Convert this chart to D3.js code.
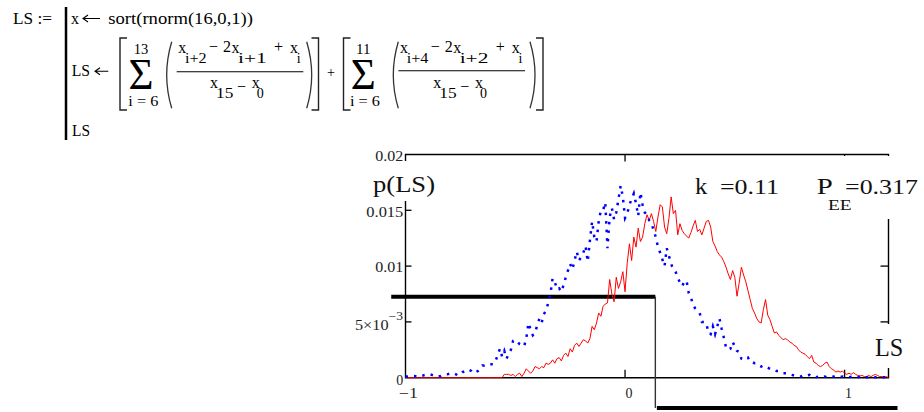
<!DOCTYPE html>
<html><head><meta charset="utf-8">
<script src="https://cdn.jsdelivr.net/npm/d3@7"></script>
<style>html,body{margin:0;padding:0;background:#fff;}svg{display:block;}</style>
</head><body>
<svg id="c" width="924" height="412"></svg>
<script>
// ---------- data ----------
const xStart = -1.0, xStep = 0.01;          // histogram grid of LS
const xDomain = [-1, 1.2];
const yDomain = [0, 0.02];
const yTicks = [0, 0.005, 0.01, 0.015, 0.02];
const yTickLabels = ["0", "5×10", "0.01", "0.015", "0.02"];
const xTicks = [-1, 0, 1];
const xTickLabels = ["−1", "0", "1"];
const kValue = "0.11";
const pEE = "0.317";
// blue dotted series (reference distribution)
const blue = [
0.0001,0.0001,0.00012,0.00015,0.00015,0.0001,0.00018,0.0002,0.0002,0.00025,
0.0003,0.0003,0.00025,0.0002,0.00012,0.0001,0.00015,0.00025,0.0003,0.0003,
0.00035,0.0004,0.0004,0.0003,0.0002,0.0003,0.0005,0.0006,0.00075,0.0007,
0.0006,0.0004,0.0005,0.0006,0.0008,0.0011,0.0011,0.0012,0.0012,0.0012,
0.0012,0.0015,0.0020,0.0026,0.0019,0.0024,0.0017,0.0021,0.0025,0.0033,
0.0034,0.0032,0.0030,0.0029,0.0028,0.0035,0.0049,0.0043,0.0038,0.0040,
0.0047,0.0053,0.0049,0.0057,0.0060,0.0067,0.0075,0.0089,0.0086,0.0079,
0.0080,0.0077,0.0083,0.0090,0.0096,0.0102,0.0097,0.0105,0.0113,0.0105,
0.0108,0.0112,0.0118,0.0104,0.0123,0.0140,0.0126,0.0122,0.0140,0.0150,
0.0150,0.0157,0.0116,0.0144,0.0152,0.0142,0.0148,0.0160,0.0172,0.0162,
0.0143,0.0147,0.0155,0.0160,0.0165,0.0156,0.0145,0.0166,0.0155,0.0148,
0.0146,0.0141,0.0139,0.0132,0.0126,0.0117,0.0112,0.0106,0.0100,0.0116,
0.0109,0.0102,0.0097,0.0095,0.0090,0.0085,0.0082,0.0086,0.0087,0.0076,
0.0072,0.0065,0.0062,0.0060,0.0058,0.0050,0.0050,0.0049,0.0040,0.0039,
0.0046,0.0039,0.0046,0.0053,0.0044,0.0036,0.0027,0.0025,0.0026,0.0032,
0.0028,0.0024,0.0023,0.0017,0.0016,0.0017,0.0018,0.0014,0.0014,0.0013,
0.0013,0.0011,0.0010,0.0011,0.0010,0.0009,0.0008,0.0007,0.0007,0.0006,
0.0006,0.0005,0.0004,0.0004,0.0004,0.0003,0.00025,0.0002,0.00015,0.0001,
0.0001,0.0002,0.00025,0.0002,0.00025,0.0001,0.00005,0.00005,0.0001,0.00003,
0.00005,0.0001,0.00003,0.00005,0.00008,0.0001,0.00005,0.00003,0.00005,0.0001,
0.00005,0.00003,0.00005,0.00008,0.00005,0.00003,0.00005,0.0001,0.00005,0.00003,
0.00003,0.00005,0.0001,0.00005,0.00003,0.00005,0.00008,0.00005,0.00003,0.00005,
0.00005
];
// red series p(LS)
const red = [
0,0,0,0,0,0,0,0,0,0,
0,0,0,0,0,0,0,0,0,0,
0,0,0,0,0,0,0,0,0,0,
0,0,0,0,0,0,0,0,0,0,
0,0,0,0,0,
0.0003,0.0003,0.0003,0.0002,0.0003,0.0001,0.0003,0.0004,0.0001,0.0004,
0.0008,0.0006,0.0004,0.0006,0.0010,0.0009,0.0008,0.0010,0.0009,0.0013,
0.0012,0.0013,0.0016,0.0013,0.0017,0.0018,0.0015,0.0020,0.0022,0.0019,
0.0026,0.0023,0.0029,0.0031,0.0028,0.0031,0.0034,0.0033,0.0031,0.0035,
0.0046,0.0043,0.0049,0.0058,0.0055,0.0064,0.0066,0.0067,0.0088,0.0075,
0.0068,0.0090,0.0080,0.0086,0.0095,
0.0077,0.0103,0.0120,0.0105,0.0126,0.0117,0.0134,0.0122,0.0126,0.0138,
0.0146,0.0141,0.0147,0.0140,0.0131,0.0144,0.0155,0.0153,0.0135,0.0129,
0.0143,0.0162,0.0147,0.0150,0.0128,0.0138,0.0132,0.0129,0.0127,0.0125,
0.0130,0.0136,0.0141,0.0131,0.0133,0.0128,0.0134,0.0140,0.0141,0.0135,
0.0122,0.0118,0.0113,0.0110,0.0108,0.0104,0.0099,0.0093,0.0088,0.0096,
0.0090,0.0073,0.0085,0.0099,0.0092,0.0086,0.0078,0.0070,0.0062,0.0058,
0.0053,0.0050,0.0049,0.0061,0.0070,0.0056,0.0052,0.0046,0.0040,0.0041,
0.0038,0.0036,0.0034,0.0035,0.0034,0.0032,0.0031,0.0029,0.0028,0.0025,
0.0023,0.0022,0.0021,0.0019,0.0017,0.0020,0.0014,0.0013,0.0011,0.0010,
0.0011,0.0013,0.0014,0.0010,0.0008,0.0007,0.0005,0.0006,0.0005,0.0006,
0.0004,0.0003,0.0004,0.0003,0.00045,0.0003,0.0002,0.00015,0.0002,0.0001,
0.0001,0.0002,0.0001,0.0002,0.0003,0.0002,0.0001,0.0001,0.00005,0.0001,
0
];
// black step trace
const stepX = [-1.065, 0.138, 0.138, 1.241];
const stepY = [0.00726, 0.00726, -0.00271, -0.00271];

// ---------- drawing ----------
const FONT = "'Liberation Serif','Times New Roman',serif";
const svg = d3.select("#c");
svg.append("rect").attr("width", 924).attr("height", 412).attr("fill", "#fff");

function txt(g, x, y, s, size, len, anchor, fill) {
  const t = g.append("text").attr("x", x).attr("y", y).text(s)
    .attr("font-family", FONT).attr("font-size", size)
    .attr("fill", fill || "#000").attr("text-anchor", anchor || "start");
  if (len) t.attr("textLength", len).attr("lengthAdjust", "spacingAndGlyphs");
  return t;
}
function arrow(g, x0, x1, yy) {
  g.append("path").attr("d", `M${x1},${yy} H${x0 + 1} M${x0 + 5},${yy - 3.5} L${x0},${yy} L${x0 + 5},${yy + 3.5}`)
    .attr("fill", "none").attr("stroke", "#000").attr("stroke-width", 1.1);
}

// ----- formula block -----
const f = svg.append("g");
txt(f, 13, 23.5, "LS :=", 16, 39);
f.append("line").attr("x1", 66).attr("x2", 66).attr("y1", 7).attr("y2", 140)
  .attr("stroke", "#000").attr("stroke-width", 2.5);
txt(f, 71, 23.5, "x", 16);
arrow(f, 83, 100, 18.5);
txt(f, 108.3, 23.5, "sort(rnorm(16,0,1))", 16, 144.7);
txt(f, 71.7, 76, "LS", 16, 18.3);
arrow(f, 95, 108.3, 71.3);
txt(f, 72, 136, "LS", 16, 18);

function bracket(x, dir) { // dir +1 = "[" , -1 = "]"
  f.append("path").attr("d", `M${x + dir * 7},38 H${x} V110 H${x + dir * 7}`)
    .attr("fill", "none").attr("stroke", "#222").attr("stroke-width", 1.4);
}
function paren(x0, dir) { // dir +1 = "(" , -1 = ")"
  f.append("path").attr("d", `M${x0},41.7 Q${x0 - dir * 10},75 ${x0},108.3`)
    .attr("fill", "none").attr("stroke", "#333").attr("stroke-width", 1.3);
}
function sum(cfg) {
  bracket(cfg.bl, 1);
  txt(f, cfg.sc, 53.5, cfg.upper, 14, 14.5, "middle");
  txt(f, cfg.sc, 88.5, "Σ", 44, 25, "middle");
  txt(f, cfg.lowX, 106, "i = 6", 15, 30);
  paren(cfg.pl, 1);
  const d = cfg.dn;
  txt(f, 178.3 + d, 53, "x", 16);
  txt(f, 185 + d, 63, cfg.s1, 14, 21.7);
  txt(f, 209 + d, 51.5, "−", 16);
  txt(f, 223 + d, 51.5, "2", 16);
  txt(f, 231.5 + d, 53, "x", 16);
  txt(f, 238 + d, 63, cfg.s2, 14, 28.7);
  txt(f, 274 + d, 51.5, "+", 16);
  txt(f, 290 + d, 53, "x", 16);
  txt(f, 296.7 + d, 63, "i", 14);
  f.append("line").attr("x1", 176.7 + d).attr("x2", 303.3 + d)
    .attr("y1", cfg.fy).attr("y2", cfg.fy).attr("stroke", "#000").attr("stroke-width", 1.1);
  const e = cfg.dd;
  txt(f, 210 + e, 88.3, "x", 16);
  txt(f, 216 + e, 98.3, "15", 14, 17.3);
  txt(f, 237 + e, 92, "−", 16);
  txt(f, 251.7 + e, 88.3, "x", 16);
  txt(f, 256.7 + e, 98.3, "0", 14);
  paren(cfg.pr, -1);
  bracket(cfg.br, -1);
}
sum({bl: 120, sc: 141, upper: "13", lowX: 128.3, pl: 171.7, dn: 0, s1: "i+2", s2: "i+1",
     fy: 71.7, dd: 0, pr: 306.7, br: 318.5});
txt(f, 331, 76.5, "+", 14, null, "middle");
sum({bl: 343.5, sc: 363.3, upper: "11", lowX: 350, pl: 398.3, dn: 221.7, s1: "i+4", s2: "i+2",
     fy: 70.7, dd: 223.3, pr: 530, br: 543});

// ----- chart -----
const x = d3.scaleLinear().domain(xDomain).range([405.5, 888.5]);
const y = d3.scaleLinear().domain(yDomain).range([377.7, 154.5]);
const g = svg.append("g");
const X0 = x(xDomain[0]), X1 = x(xDomain[1]), Y0 = y(yDomain[0]), Y1 = y(yDomain[1]);

// frame
g.append("path").attr("d", `M${X0},${Y1} V${Y0} H${X1} V${Y1} Z`)
  .attr("fill", "none").attr("stroke", "#000").attr("stroke-width", 1.4);
// ticks
[0.005, 0.01, 0.015].forEach(v => {
  g.append("line").attr("x1", X0).attr("x2", X0 + 6).attr("y1", y(v)).attr("y2", y(v))
    .attr("stroke", "#000").attr("stroke-width", 1.3);
  g.append("line").attr("x1", X1).attr("x2", X1 - 8).attr("y1", y(v)).attr("y2", y(v))
    .attr("stroke", "#000").attr("stroke-width", 1.3);
});
[0, 1].forEach(v => {
  g.append("line").attr("x1", x(v)).attr("x2", x(v)).attr("y1", Y0).attr("y2", Y0 - 8)
    .attr("stroke", "#000").attr("stroke-width", 1.3);
  g.append("line").attr("x1", x(v)).attr("x2", x(v)).attr("y1", Y1).attr("y2", Y1 + 7)
    .attr("stroke", "#000").attr("stroke-width", 1.3);
});

// y tick labels
const tcol = "#222";
yTicks.forEach((v, i) => {
  const lab = yTickLabels[i];
  if (lab === "5×10") {
    txt(g, 388.5, y(v) + 8, lab, 15, 33.5, "end", tcol);
    txt(g, 388.5, y(v) - 1.5, "−3", 11.5, 14.5, "start", tcol);
  } else {
    const len = lab.length === 1 ? null : (lab.length === 4 ? 28 : 37);
    txt(g, 403.3, y(v) + (v === 0 ? 7.3 : 6.2), lab, 14, len, "end", tcol);
  }
});
// x tick labels
xTicks.forEach((v, i) => {
  const lab = xTickLabels[i];
  txt(g, x(v) + (v === -1 ? 3 : 4), 397.5, lab, 14, lab.length > 1 ? 19 : null, "middle", tcol);
});

// step trace (drawn under the data)
const sp = stepX.map((v, i) => [x(v), y(stepY[i])]);
g.append("line").attr("x1", sp[0][0]).attr("x2", sp[1][0]).attr("y1", sp[0][1]).attr("y2", sp[1][1])
  .attr("stroke", "#000").attr("stroke-width", 4);
g.append("line").attr("x1", sp[1][0]).attr("x2", sp[2][0]).attr("y1", sp[1][1]).attr("y2", sp[2][1])
  .attr("stroke", "#333").attr("stroke-width", 1.4);
g.append("line").attr("x1", sp[2][0] + 1.5).attr("x2", sp[3][0]).attr("y1", sp[2][1]).attr("y2", sp[3][1])
  .attr("stroke", "#000").attr("stroke-width", 4);

// data
const line = d3.line().x((d, i) => x(xStart + i * xStep)).y(d => y(d));
g.append("path").datum(red).attr("d", line)
  .attr("fill", "none").attr("stroke", "#ff0000").attr("stroke-width", 1);
g.append("path").datum(blue).attr("d", line)
  .attr("fill", "none").attr("stroke", "#0000ff").attr("stroke-width", 2.5)
  .attr("stroke-dasharray", "2.5,6");

// labels with white boxes
g.append("rect").attr("x", 370).attr("y", 161).attr("width", 70).attr("height", 40).attr("fill", "#fff");
txt(g, 373, 191.7, "p(LS)", 23, 62, "start", "#111");
txt(g, 695, 194, "k", 24, 12.3, "start", "#111");
txt(g, 720, 194, "=" + kValue, 22, 59, "start", "#111");
g.append("rect").attr("x", 812).attr("y", 156).attr("width", 112).attr("height", 63).attr("fill", "#fff");
txt(g, 816.7, 194, "P", 23, 16, "start", "#111");
txt(g, 828, 210, "EE", 15, 23.7, "start", "#111");
txt(g, 845, 194, "=" + pEE, 22, 73, "start", "#111");
g.append("rect").attr("x", 870).attr("y", 324).attr("width", 36).attr("height", 44).attr("fill", "#fff");
txt(g, 875, 356, "LS", 25, 28.3, "start", "#111");
</script>
</body></html>
